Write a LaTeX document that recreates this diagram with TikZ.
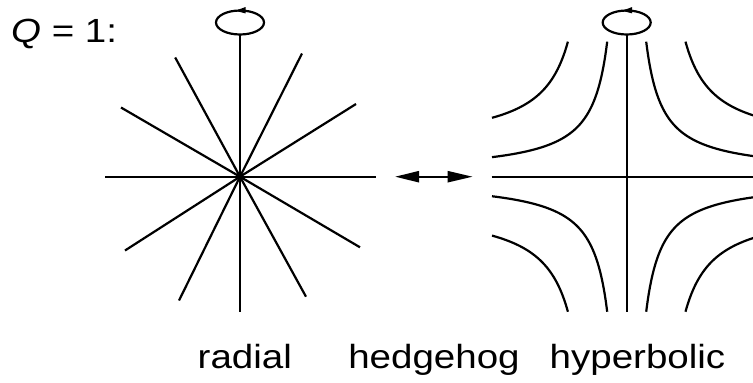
\documentclass[tikz,border=0pt]{standalone}
\usepackage{fontspec}
\setmainfont[FakeStretch=1.15]{Liberation Sans}
\usetikzlibrary{arrows.meta}
\begin{document}
\begin{tikzpicture}[x=1pt,y=-1pt,line width=2.2pt,
  lbl/.style={font=\fontsize{33.5}{38}\selectfont, inner sep=0pt, anchor=base},
  curve/.style={line width=2.2pt},
  rothead/.style={fill=black, draw=none}]
\useasboundingbox (0,0) rectangle (753,383);
\clip (0,0) rectangle (753,383);

% ---------- radial ----------
\coordinate (rc) at (240,176.7);
\coordinate (rtop) at (240,34.5);
\foreach \p in {(175.2,57.5),(302,53.5),(121,107.5),(356,104),(125,250.5),(360,247.3),(179,300.5),(306,296.7),(105,176.7),(376,176.7),(240,312)}
  \draw (rc) -- \p;
\draw (rc) -- (rtop);
\draw (240,22.5) ellipse [x radius=24, y radius=12];
\fill[rothead] (235.5,10.8) -- (245.5,7) -- (245.5,13.4) -- cycle;

% ---------- hedgehog arrow ----------
\coordinate (ha) at (395,176.7);
\coordinate (hb) at (472.7,176.7);
\draw[{Triangle[length=24pt,width=11pt]}-{Triangle[length=25pt,width=11pt]}] (ha) -- (hb);

% ---------- hyperbolic ----------
\coordinate (hc) at (626.7,176.7);
\draw (626.7,34.5) -- (626.7,312);
\draw (491.7,176.7) -- (762,176.7);
\draw (626.7,22.5) ellipse [x radius=24, y radius=12];
\fill[rothead] (622.2,10.8) -- (632.2,7) -- (632.2,13.4) -- cycle;
\begin{scope}[shift={(hc)}]
  \foreach \sx/\sy in {1/1,1/-1,-1/1,-1/-1}{
    \draw[curve] plot[domain=19.5:134.7, samples=90, smooth] ({\sx*\x},{\sy*(3.3+2134/(\x-3.3))});
    \draw[curve] plot[domain=58.8:134.7, samples=90, smooth] ({\sx*\x},{\sy*(30+3025/(\x-30))});
  }
\end{scope}

% ---------- labels ----------
\node[lbl, anchor=base west] (qlabel) at (10,42) {\textit{Q} = 1:};
\node[lbl] (radial) at (244.8,368) {radial};
\node[lbl] (hedgehog) at (434,368) {hedgehog};
\node[lbl] (hyperbolic) at (637.5,368) {hyperbolic};
\end{tikzpicture}
\end{document}
